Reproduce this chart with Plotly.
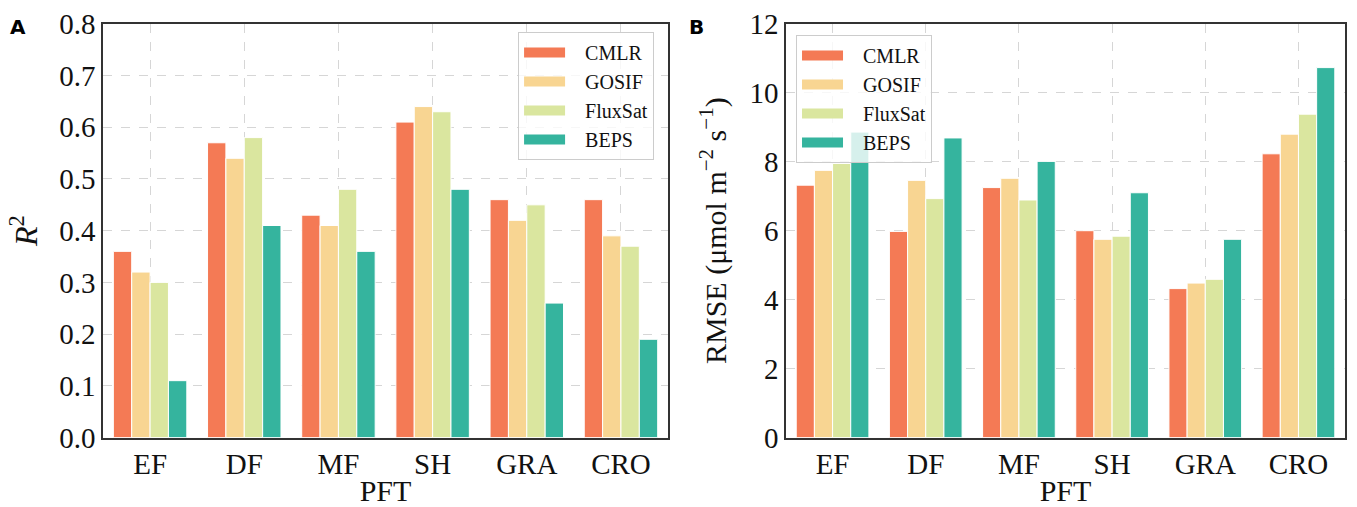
import plotly.graph_objects as go

pft = ["EF", "DF", "MF", "SH", "GRA", "CRO"]
models = ["CMLR", "GOSIF", "FluxSat", "BEPS"]
colors = ["#F47A55", "#F8D592", "#DAE69F", "#35B49E"]

r2_cmlr = [0.36, 0.57, 0.43, 0.61, 0.46, 0.46]
r2_gosif = [0.32, 0.54, 0.41, 0.64, 0.42, 0.39]
r2_fluxsat = [0.30, 0.58, 0.48, 0.63, 0.45, 0.37]
r2_beps = [0.11, 0.41, 0.36, 0.48, 0.26, 0.19]

rmse_cmlr = [7.32, 5.98, 7.25, 6.0, 4.32, 8.23]
rmse_gosif = [7.75, 7.46, 7.52, 5.75, 4.48, 8.8]
rmse_fluxsat = [7.95, 6.93, 6.89, 5.84, 4.59, 9.38]
rmse_beps = [8.86, 8.69, 8.01, 7.1, 5.75, 10.73]

r2_ticks = [0.0, 0.1, 0.2, 0.3, 0.4, 0.5, 0.6, 0.7, 0.8]
rmse_ticks = [0, 2, 4, 6, 8, 10, 12]

r2_series = [r2_cmlr, r2_gosif, r2_fluxsat, r2_beps]
rmse_series = [rmse_cmlr, rmse_gosif, rmse_fluxsat, rmse_beps]

SERIF = "Liberation Serif, Times New Roman, serif"

fig = go.Figure()
panels = [("x", "y", "legend", "a", r2_series), ("x2", "y2", "legend2", "b", rmse_series)]
for xa, ya, lg, tag, series in panels:
    for name, col, vals in zip(models, colors, series):
        fig.add_trace(go.Bar(x=pft, y=vals, name=name,
                             marker=dict(color=col, line=dict(color="white", width=1)),
                             xaxis=xa, yaxis=ya, legend=lg, legendgroup=tag + name, showlegend=False))
        # legend entry drawn as a wide colour swatch (matplotlib-style patch)
        fig.add_trace(go.Scatter(x=[None], y=[None], mode="lines", name=name,
                                 line=dict(color=col, width=13, dash="41px,100px"),
                                 xaxis=xa, yaxis=ya, legend=lg, legendgroup=tag + name,
                                 hoverinfo="skip"))

axis_common = dict(
    showline=True, linecolor="#333333", linewidth=1.5, mirror=True,
    showgrid=True, gridcolor="#d6d6d6", griddash="dash", gridwidth=1,
    ticks="", zeroline=False, automargin=False,
    tickfont=dict(family=SERIF, size=29, color="#111111"),
)

yd = [0.137, 0.953]
legend_common = dict(bgcolor="rgba(255,255,255,0.8)", bordercolor="#cccccc", borderwidth=1,
                     font=dict(family=SERIF, size=20, color="#111111"), tracegroupgap=0,
                     itemwidth=56)
fig.update_layout(
    width=1357, height=507,
    margin=dict(l=0, r=0, t=0, b=0),
    paper_bgcolor="white", plot_bgcolor="white",
    barmode="group", bargap=0.22, bargroupgap=0,
    font=dict(family=SERIF, color="#111111"),
    xaxis=dict(domain=[0.0759, 0.4923], anchor="y", range=[-0.5, 5.5], type="category",
               title=dict(text="PFT", font=dict(family=SERIF, size=30), standoff=2), **axis_common),
    yaxis=dict(domain=yd, anchor="x", range=[0, 0.8], tickvals=r2_ticks, tickformat=".1f",
               title=dict(text="<i>R</i><sup>2</sup>", font=dict(family=SERIF, size=32), standoff=12), **axis_common),
    xaxis2=dict(domain=[0.5792, 0.9912], anchor="y2", range=[-0.5, 5.5], type="category",
                title=dict(text="PFT", font=dict(family=SERIF, size=30), standoff=2), **axis_common),
    yaxis2=dict(domain=yd, anchor="x2", range=[0, 12], tickvals=rmse_ticks,
                title=dict(text="RMSE (μmol m<sup>−2</sup> s<sup>−1</sup>)", font=dict(family=SERIF, size=30), standoff=14),
                **axis_common),
    legend=dict(x=0.482, y=0.937, xanchor="right", yanchor="top", **legend_common),
    legend2=dict(x=0.5866, y=0.931, xanchor="left", yanchor="top", **legend_common),
    annotations=[
        dict(text="<b>A</b>", x=0.0133, y=0.946, xref="paper", yref="paper", showarrow=False,
             xanchor="center", yanchor="middle", font=dict(family="DejaVu Sans", size=20, color="black")),
        dict(text="<b>B</b>", x=0.5136, y=0.946, xref="paper", yref="paper", showarrow=False,
             xanchor="center", yanchor="middle", font=dict(family="DejaVu Sans", size=20, color="black")),
    ],
)

fig.write_html("out.html")
